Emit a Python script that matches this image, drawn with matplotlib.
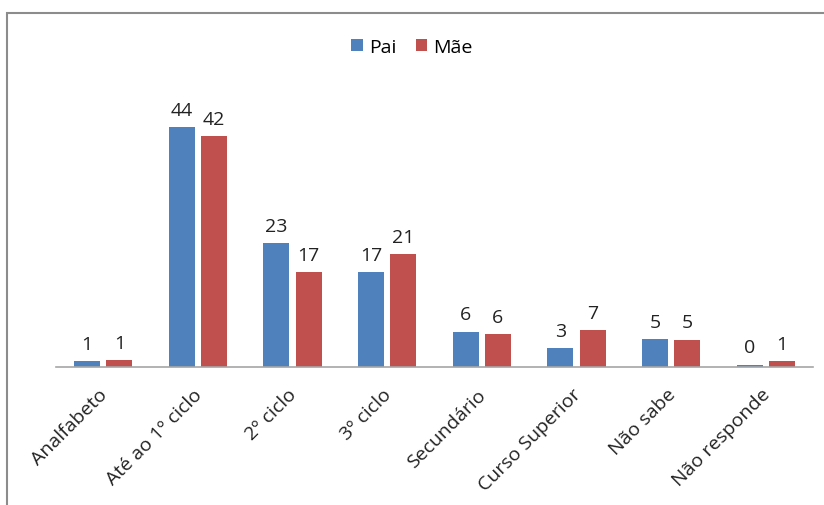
import matplotlib
matplotlib.use("Agg")
import numpy as np
import matplotlib.pyplot as plt
import matplotlib.transforms as mtransforms
from matplotlib.patches import Rectangle

categorias = ["Analfabeto", "Até ao 1º ciclo", "2º ciclo", "3º ciclo",
              "Secundário", "Curso Superior", "Não sabe", "Não responde"]
pai = [1.1, 44.0, 22.7, 17.4, 6.5, 3.4, 5.1, 0.4]
mae = [1.3, 42.4, 17.4, 20.7, 6.0, 6.8, 5.0, 1.1]

azul = "#4F81BD"
vermelho = "#C0504D"
plt.rcParams['font.family'] = ['Open Sans', 'DejaVu Sans']

fig = plt.figure(figsize=(8.24, 5.06), dpi=100)
ax = fig.add_axes([56 / 824, 1 - 368 / 506, (813 - 56) / 824, (368 - 90) / 506])

# chart frame (Excel style), cut by the image edge
fig.patches.append(Rectangle((7 / 824, -0.1), 1.1, 1 - 14 / 506 + 0.1,
                             transform=fig.transFigure, fill=False,
                             edgecolor="#8c8c8c", linewidth=1.5))

x = np.arange(len(categorias))
w = 0.275
b1 = ax.bar(x - 0.17, pai, w, color=azul, label="Pai")
b2 = ax.bar(x + 0.17, mae, w, color=vermelho, label="Mãe")

for barras in (b1, b2):
    for r in barras:
        ax.annotate("%.0f" % r.get_height(),
                    (r.get_x() + r.get_width() / 2, r.get_height()),
                    xytext=(0, 6), textcoords="offset points",
                    ha="center", va="bottom", fontsize=14, color="#222222")

ax.set_xlim(-0.5, len(categorias) - 0.5)
ax.set_ylim(0, 51)
ax.set_yticks([])
for s in ["top", "right", "left"]:
    ax.spines[s].set_visible(False)
ax.spines["bottom"].set_color("#a6a6a6")
ax.spines["bottom"].set_linewidth(1.2)
ax.set_xticks(x)
ax.set_xticklabels(categorias, rotation=45, ha="right", rotation_mode="anchor",
                   fontsize=14, color="#222222")
ax.tick_params(axis="x", length=0, pad=13)
desloc = mtransforms.ScaledTranslation(-5 / 100, 0, fig.dpi_scale_trans)
for lbl in ax.get_xticklabels():
    lbl.set_transform(lbl.get_transform() + desloc)

ax.legend(loc="center", bbox_to_anchor=(0.5, 1 - 48 / 506), bbox_transform=fig.transFigure,
          ncol=2, frameon=False, fontsize=14, handlelength=0.6, handleheight=0.6,
          handletextpad=0.3, columnspacing=1.0)

fig.savefig("out.png", dpi=100)
